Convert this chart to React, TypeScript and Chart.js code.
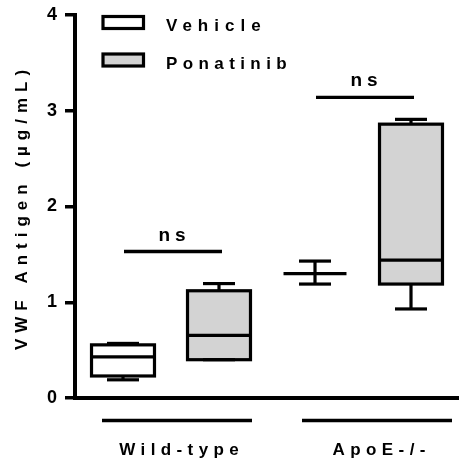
import { useEffect, useRef } from 'react';
import { Chart, registerables } from 'chart.js';

Chart.register(...registerables);

const groups = ['Wild-type', 'ApoE-/-'];
const seriesNames = ['Vehicle', 'Ponatinib'];
const seriesFills = ['#ffffff', '#d3d3d3'];

const vehicleMin = [0.19, 1.19];
const vehicleQ1 = [0.23, 1.3];
const vehicleMedian = [0.43, 1.3];
const vehicleQ3 = [0.555, 1.3];
const vehicleMax = [0.57, 1.43];

const ponatinibMin = [0.4, 0.93];
const ponatinibQ1 = [0.4, 1.19];
const ponatinibMedian = [0.655, 1.44];
const ponatinibQ3 = [1.12, 2.86];
const ponatinibMax = [1.195, 2.91];

const yTicks = [0, 1, 2, 3, 4];
const sigLabels = ['ns', 'ns'];
const sigLevels = [1.53, 3.14];
const yTitle = 'VWF Antigen (\u00b5g/mL)';

const FAMILY = '"Liberation Sans", Arial, Helvetica, sans-serif';

const stats = [
  { min: vehicleMin, q1: vehicleQ1, med: vehicleMedian, q3: vehicleQ3, max: vehicleMax },
  { min: ponatinibMin, q1: ponatinibQ1, med: ponatinibMedian, q3: ponatinibQ3, max: ponatinibMax },
];

function hline(ctx: CanvasRenderingContext2D, x1: number, x2: number, y: number) {
  ctx.beginPath();
  ctx.moveTo(x1, y);
  ctx.lineTo(x2, y);
  ctx.stroke();
}
function vline(ctx: CanvasRenderingContext2D, x: number, y1: number, y2: number) {
  ctx.beginPath();
  ctx.moveTo(x, y1);
  ctx.lineTo(x, y2);
  ctx.stroke();
}

function spacedText(
  ctx: CanvasRenderingContext2D,
  text: string,
  x: number,
  y: number,
  spacing: number,
  align: 'center' | 'left'
) {
  const c: any = ctx;
  const has = 'letterSpacing' in c;
  if (has) c.letterSpacing = spacing + 'px';
  ctx.textAlign = 'left';
  const w = ctx.measureText(text).width;
  const visual = has ? w - spacing : w;
  const sx = align === 'center' ? x - visual / 2 : x;
  ctx.fillText(text, sx, y);
  if (has) c.letterSpacing = '0px';
}

const boxPlugin = {
  id: 'boxWhisker',
  afterDatasetsDraw(chart: any) {
    const ctx: CanvasRenderingContext2D = chart.ctx;
    const y = chart.scales.y;
    ctx.save();
    ctx.strokeStyle = '#000';
    ctx.lineWidth = 3.2;
    ctx.lineCap = 'butt';
    ctx.lineJoin = 'miter';
    stats.forEach((s, di) => {
      const meta = chart.getDatasetMeta(di);
      meta.data.forEach((bar: any, i: number) => {
        const { x, width } = bar.getProps(['x', 'width'], true);
        const yMin = y.getPixelForValue(s.min[i]);
        const yQ1 = y.getPixelForValue(s.q1[i]);
        const yMed = y.getPixelForValue(s.med[i]);
        const yQ3 = y.getPixelForValue(s.q3[i]);
        const yMax = y.getPixelForValue(s.max[i]);
        const cap = 32;
        if (yMax < yQ3) vline(ctx, x, yQ3, yMax);
        hline(ctx, x - cap / 2, x + cap / 2, yMax);
        if (yMin > yQ1) vline(ctx, x, yQ1, yMin);
        hline(ctx, x - cap / 2, x + cap / 2, yMin);
        if (yQ1 - yQ3 > 0.5) ctx.strokeRect(x - width / 2, yQ3, width, yQ1 - yQ3);
        hline(ctx, x - width / 2, x + width / 2, yMed);
      });
    });
    ctx.restore();
  },
};

const annotationPlugin = {
  id: 'annotations',
  afterDraw(chart: any) {
    const ctx: CanvasRenderingContext2D = chart.ctx;
    const xs = chart.scales.x;
    const ys = chart.scales.y;
    const area = chart.chartArea;
    ctx.save();
    ctx.fillStyle = '#000';
    ctx.strokeStyle = '#000';
    ctx.textBaseline = 'alphabetic';

    // legend
    ctx.font = `bold 17px ${FAMILY}`;
    chart.data.datasets.forEach((ds: any, i: number) => {
      const top = area.top + 1.5 + i * 37.5;
      ctx.fillStyle = ds.backgroundColor;
      ctx.fillRect(103, top, 40.5, 12);
      ctx.lineWidth = 3.2;
      ctx.strokeStyle = '#000';
      ctx.strokeRect(103, top, 40.5, 12);
      ctx.fillStyle = '#000';
      spacedText(ctx, ds.label, 166, top + 14.5, i === 0 ? 6 : 5.4, 'left');
    });

    // significance bars
    const m0 = chart.getDatasetMeta(0);
    const m1 = chart.getDatasetMeta(1);
    sigLabels.forEach((lab, i) => {
      const x0 = m0.data[i].x;
      const x1 = m1.data[i].x;
      const yy = ys.getPixelForValue(sigLevels[i]);
      ctx.lineWidth = 3.3;
      hline(ctx, x0 + 1, x1 + 3, yy);
      ctx.font = `bold 19px ${FAMILY}`;
      spacedText(ctx, lab, (x0 + x1) / 2 + 1, yy - 11, 5, 'center');
    });

    // group lines & labels
    const shift = [6, 14];
    groups.forEach((g, i) => {
      const cx = xs.getPixelForValue(i) + shift[i];
      ctx.lineWidth = 3.5;
      hline(ctx, cx - 75, cx + 75, area.bottom + 22.5);
      ctx.font = `bold 17px ${FAMILY}`;
      spacedText(ctx, g, cx + 2, area.bottom + 56.5, 5.4, 'center');
    });

    // y title
    ctx.font = `bold 17px ${FAMILY}`;
    ctx.translate(26.8, (area.top + area.bottom) / 2 + 3.5);
    ctx.rotate(-Math.PI / 2);
    spacedText(ctx, yTitle, 0, 0, 6, 'center');
    ctx.restore();
  },
};

export default function App() {
  const ref = useRef<HTMLCanvasElement>(null);
  useEffect(() => {
    if (!ref.current) return;
    const chart = new Chart(ref.current, {
      type: 'bar',
      data: {
        labels: groups,
        datasets: seriesNames.map((name, di) => ({
          label: name,
          data: groups.map((_, i) => [stats[di].q1[i], stats[di].q3[i]]),
          backgroundColor: seriesFills[di],
          borderWidth: 0,
          borderSkipped: false,
          inflateAmount: 0,
          barPercentage: 0.656,
          categoryPercentage: 1,
        })) as any,
      },
      options: {
        animation: false,
        responsive: false,
        maintainAspectRatio: false,
        layout: { padding: { top: 15, left: 0, right: 0, bottom: 0 } },
        plugins: {
          legend: { display: false },
          tooltip: { enabled: false },
          title: { display: false },
        },
        scales: {
          x: {
            type: 'category',
            ticks: { display: false },
            grid: { display: false, drawTicks: false },
            border: { display: true, width: 4, color: '#000' },
            afterFit: (s: any) => {
              s.height = 67;
            },
          },
          y: {
            min: 0,
            max: 4,
            afterBuildTicks: (s: any) => {
              s.ticks = yTicks.map((v) => ({ value: v }));
            },
            ticks: {
              color: '#000',
              padding: 8,
              font: { family: FAMILY, size: 18, weight: 'bold', lineHeight: 0.6 },
            },
            grid: {
              drawOnChartArea: false,
              drawTicks: true,
              tickLength: 10,
              tickWidth: 3.5,
              tickColor: '#000',
              lineWidth: 3.5,
              color: '#000',
            },
            border: { display: true, width: 4, color: '#000' },
            afterFit: (s: any) => {
              s.width = 75;
            },
          },
        },
      } as any,
      plugins: [boxPlugin, annotationPlugin],
    });
    return () => chart.destroy();
  }, []);
  return (
    <div style={{ position: 'absolute', left: 0, top: 0, width: 459, height: 465 }}>
      <canvas ref={ref} width={459} height={465} style={{ display: 'block', width: 459, height: 465 }} />
    </div>
  );
}
